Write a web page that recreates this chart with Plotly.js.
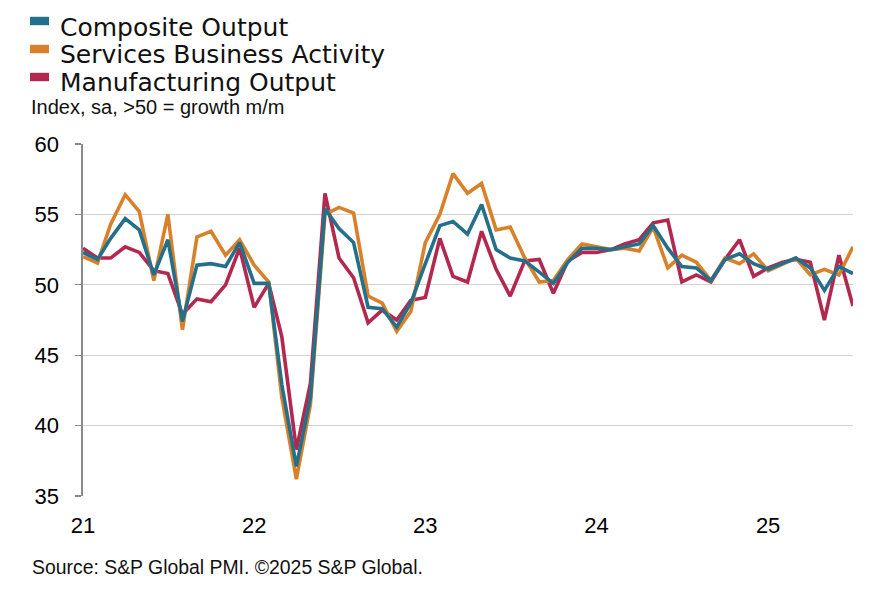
<!DOCTYPE html>
<html>
<head>
<meta charset="utf-8">
<script src="https://cdn.plot.ly/plotly-3.0.1.min.js"></script>
<style>
  html, body { margin: 0; padding: 0; background: #fff; }
  #chart { width: 887px; height: 596px; }
</style>
</head>
<body>
<div id="chart"></div>
<script>
//series names and colours
const seriesNames = ['Composite Output', 'Services Business Activity', 'Manufacturing Output']
const seriesColors = ['#24708b', '#d8812a', '#b3284f']

//x axis: monthly, Jan 2021 to Jul 2025
const startYear = 2021
const monthCount = 55
const tickLabels = ['21', '22', '23', '24', '25']

//values
const composite = [
  52.3, 51.8, 53.3, 54.7, 53.9, 50.7, 53.2, 47.4, 51.4, 51.5, 51.3, 53.0,
  50.1, 50.1, 42.9, 37.1, 42.0, 55.4, 54.0, 53.0, 48.4, 48.3, 47.0, 48.7,
  51.5, 54.2, 54.5, 53.6, 55.7, 52.5, 51.9, 51.7, 50.9, 50.1, 51.6, 52.6,
  52.6, 52.5, 52.7, 52.9, 54.2, 52.6, 51.3, 51.2, 50.3, 51.8, 52.2, 51.5,
  51.1, 51.5, 51.9, 51.2, 49.6, 51.3, 50.8
]
const services = [
  52.0, 51.55, 54.3, 56.4, 55.2, 50.3, 55.0, 46.8, 53.4, 53.8, 52.1, 53.2,
  51.4, 50.2, 42.0, 36.2, 41.5, 55.0, 55.5, 55.1, 49.2, 48.7, 46.7, 48.1,
  53.0, 55.0, 57.9, 56.5, 57.2, 53.9, 54.1, 51.9, 50.2, 50.3, 51.8, 52.9,
  52.7, 52.5, 52.6, 52.4, 54.1, 51.2, 52.1, 51.6, 50.3, 51.9, 51.5, 52.2,
  51.0, 51.5, 51.9, 50.7, 51.1, 50.7, 52.7
]
const manufacturing = [
  52.6, 51.9, 51.9, 52.7, 52.3, 51.0, 50.8, 47.9, 49.0, 48.8, 50.0, 52.6,
  48.4, 50.1, 46.3, 38.3, 43.0, 56.5, 51.9, 50.5, 47.3, 48.2, 47.5, 48.9,
  49.1, 53.3, 50.6, 50.2, 53.8, 51.1, 49.2, 51.7, 51.8, 49.4, 51.7, 52.3,
  52.3, 52.5, 52.9, 53.2, 54.4, 54.6, 50.2, 50.7, 50.2, 51.8, 53.2, 50.6,
  51.2, 51.6, 51.8, 51.6, 47.5, 52.1, 48.5
]

const subtitle = 'Index, sa, >50 = growth m/m'
const sourceText = 'Source: S&P Global PMI. ©2025 S&P Global.'

//build month dates
const months = []
for (let i = 0; i < monthCount; i++) {
  const y = startYear + Math.floor(i / 12)
  const m = (i % 12) + 1
  months.push(`${y}-${String(m).padStart(2, '0')}-01`)
}
const tickVals = tickLabels.map(t => `20${t}-01-01`)

//plot area in pixels, used to place the legend and notes
const plotLeft = 83, plotWidth = 770, plotTop = 144, plotHeight = 352
const px = x => (x - plotLeft) / plotWidth
const py = y => (plotTop + plotHeight - y) / plotHeight

const allSeries = [composite, services, manufacturing]
//draw manufacturing first, composite last (on top)
const drawOrder = [2, 1, 0]
const data = drawOrder.map(k => ({
  x: months,
  y: allSeries[k],
  type: 'scatter',
  mode: 'lines',
  name: seriesNames[k],
  line: {color: seriesColors[k], width: 3.6},
  hoverinfo: 'skip'
}))

const arial = 'Liberation Sans, Arial, sans-serif'
const legendFont = 'DejaVu Sans, Verdana, sans-serif'

//custom legend: swatch + label
const legendRows = [21, 49, 77]
const shapes = []
const annotations = []
seriesNames.forEach((name, k) => {
  const cy = legendRows[k]
  shapes.push({
    type: 'rect', xref: 'paper', yref: 'paper',
    x0: px(30), x1: px(49), y0: py(cy - 4.2), y1: py(cy + 4.2),
    fillcolor: seriesColors[k], line: {width: 0}
  })
  annotations.push({
    xref: 'paper', yref: 'paper', x: px(58), y: py(cy + 6),
    xanchor: 'left', yanchor: 'middle', showarrow: false,
    text: name, font: {family: legendFont, size: 25, color: '#111'}
  })
})
annotations.push({
  xref: 'paper', yref: 'paper', x: px(29), y: py(107),
  xanchor: 'left', yanchor: 'middle', showarrow: false,
  text: subtitle, font: {family: arial, size: 20, color: '#111'}
})
annotations.push({
  xref: 'paper', yref: 'paper', x: px(30), y: py(567),
  xanchor: 'left', yanchor: 'middle', showarrow: false,
  text: sourceText, font: {family: arial, size: 19.4, color: '#111'}
})

const range = [months[0], months[months.length - 1]]

const layout = {
  width: 887,
  height: 596,
  showlegend: false,
  paper_bgcolor: '#fff',
  plot_bgcolor: '#fff',
  margin: {l: plotLeft, r: 887 - plotLeft - plotWidth, t: plotTop, b: 596 - plotTop - plotHeight, pad: 0},
  xaxis: {
    type: 'date',
    range: range,
    tickvals: tickVals,
    ticktext: tickLabels,
    showgrid: false,
    zeroline: false,
    showline: false,
    ticks: 'outside',
    ticklen: 10,
    tickcolor: 'rgba(0,0,0,0)',
    tickfont: {family: arial, size: 22, color: '#000'}
  },
  //axis line through 50 with year ticks
  xaxis2: {
    type: 'date',
    overlaying: 'x',
    anchor: 'free',
    position: (50 - 35) / (60 - 35),
    range: range,
    tickvals: tickVals,
    showticklabels: false,
    showgrid: false,
    zeroline: false,
    showline: true,
    linecolor: '#8a8a8a',
    linewidth: 1.6,
    ticks: 'outside',
    ticklen: 6,
    tickwidth: 1.4,
    tickcolor: '#8a8a8a',
    layer: 'below traces'
  },
  yaxis: {
    range: [35, 60],
    dtick: 5,
    showgrid: true,
    gridcolor: '#d3d3d3',
    gridwidth: 1.2,
    zeroline: false,
    showline: true,
    linecolor: '#8a8a8a',
    linewidth: 1.6,
    ticks: 'outside',
    ticklen: 6,
    tickwidth: 1.4,
    tickcolor: '#8a8a8a',
    ticklabelstandoff: 12,
    tickfont: {family: arial, size: 22, color: '#000'}
  },
  shapes: shapes,
  annotations: annotations
}

Plotly.newPlot('chart', data, layout, {displayModeBar: false, staticPlot: true})
</script>
</body>
</html>
